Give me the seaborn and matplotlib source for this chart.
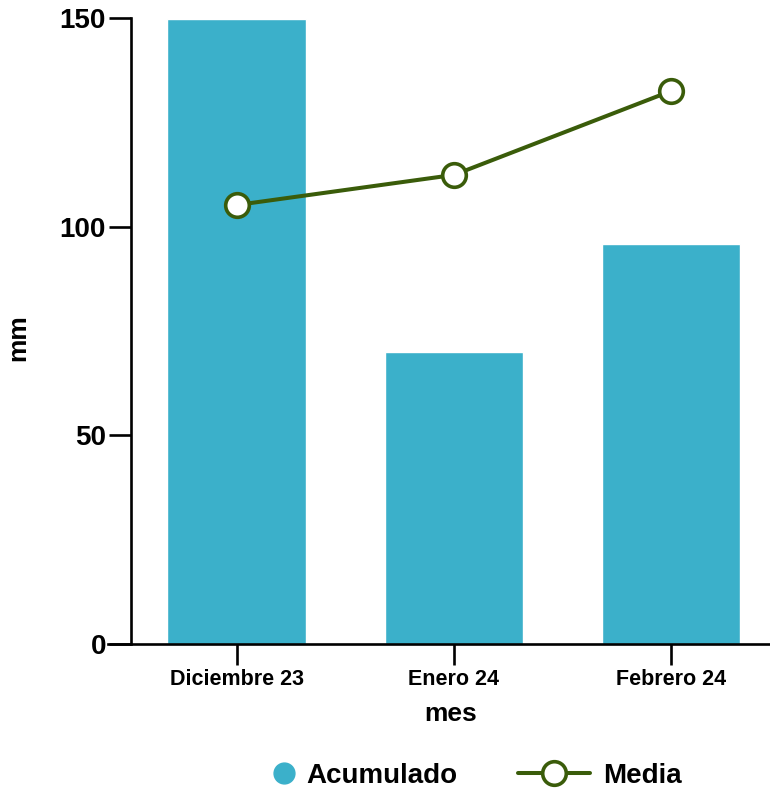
import matplotlib
matplotlib.use("Agg")
import matplotlib.pyplot as plt
from matplotlib.lines import Line2D
import seaborn as sns
import pandas as pd

# data
meses = ["Diciembre 23", "Enero 24", "Febrero 24"]
acumulado = [149.8, 70.0, 95.9]
media = [105.2, 112.4, 132.5]

BAR_COLOR = "#3BB0CA"
LINE_COLOR = "#3A5C0A"

sns.set_theme(style="white")
plt.rcParams["font.family"] = ["Liberation Sans", "DejaVu Sans"]
plt.rcParams["font.weight"] = "bold"
plt.rcParams["text.color"] = "black"
plt.rcParams["axes.labelcolor"] = "black"
plt.rcParams["xtick.color"] = "black"
plt.rcParams["ytick.color"] = "black"

df = pd.DataFrame({"mes": meses, "acumulado": acumulado, "media": media})

fig = plt.figure(figsize=(7.7, 7.89), dpi=100)
ax = fig.add_axes([108 / 770, 1 - 644 / 789, 662 / 770, 626 / 789])

sns.barplot(data=df, x="mes", y="acumulado", color=BAR_COLOR, width=0.64,
            saturation=1, ax=ax)
sns.pointplot(data=df, x="mes", y="media", color=LINE_COLOR, markers="o",
              markersize=17, linewidth=2.9, markerfacecolor="white",
              markeredgewidth=2.6, ax=ax)

ax.set_xlim(-0.594, 2.456)
ax.set_ylim(0, 150)
ax.set_yticks([0, 50, 100, 150])

for side in ["top", "right"]:
    ax.spines[side].set_visible(False)
ax.spines["left"].set_position(("data", -0.488))
for side in ["left", "bottom"]:
    ax.spines[side].set_linewidth(1.9)
    ax.spines[side].set_color("black")

ax.tick_params(axis="y", length=16, width=1.9, pad=2, labelsize=20, left=True)
ax.tick_params(axis="x", length=15, width=1.9, pad=3, labelsize=15.5,
               bottom=True)
for lab in ax.get_xticklabels() + ax.get_yticklabels():
    lab.set_fontweight("bold")

ax.set_xlabel("mes", fontsize=19, fontweight="bold")
ax.set_ylabel("mm", fontsize=19, fontweight="bold")
ax.xaxis.set_label_coords(0.518, -0.093)
ax.yaxis.set_label_coords(-0.118, 0.49)

# two single-entry legends so each handle can have its own length
h_acum = Line2D([], [], linestyle="none", marker="o", markersize=15,
                markerfacecolor=BAR_COLOR, markeredgecolor=BAR_COLOR)
h_media = Line2D([], [], color=LINE_COLOR, linewidth=2.9, marker="o",
                 markersize=17, markerfacecolor="white", markeredgewidth=2.6,
                 markeredgecolor=LINE_COLOR)
fig.legend([h_acum], ["Acumulado"], loc="center left",
           bbox_to_anchor=(270 / 770, 1 - 776 / 789), frameon=False,
           prop={"size": 20, "weight": "bold"}, handlelength=1.0,
           handletextpad=0.3, borderpad=0, borderaxespad=0)
fig.legend([h_media], ["Media"], loc="center left",
           bbox_to_anchor=(518 / 770, 1 - 776 / 789), frameon=False,
           prop={"size": 20, "weight": "bold"}, handlelength=2.6,
           handletextpad=0.45, borderpad=0, borderaxespad=0)

fig.savefig("out.png", dpi=100)
